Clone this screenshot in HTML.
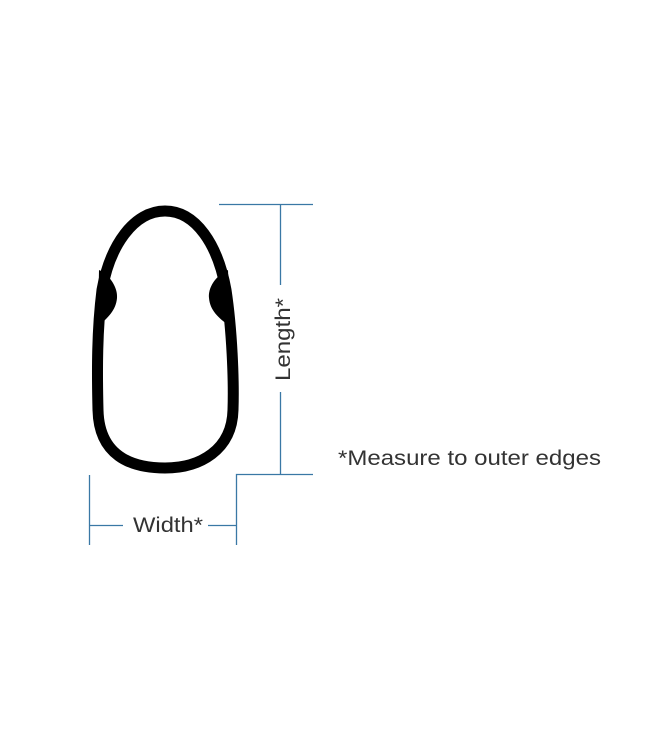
<!DOCTYPE html>
<html><head><style>body{margin:0;background:#fff}</style></head><body>
<svg width="650" height="750" viewBox="0 0 650 750" xmlns="http://www.w3.org/2000/svg">
<rect width="650" height="750" fill="#fff"/>
<path d="M165,211 C196,211 218,245 226,290 C232,330 234,380 233,410 C232,450 200,468 165,468 C130,468 99,455 98,410 C97,370 97,330 102,290 C110,245 134,211 165,211 Z" fill="none" stroke="#000" stroke-width="11"/>
<path d="M99,270 C110,275 118,288 117,298 C116,310 108,318 98,326 Z" fill="#000"/>
<path d="M228,270 C215,276 208,288 209,298 C210,310 218,318 230,326 Z" fill="#000"/>
<g stroke="#3a78a5" stroke-width="1.3" fill="none">
<line x1="219" y1="204.5" x2="313" y2="204.5"/>
<line x1="280.5" y1="204" x2="280.5" y2="285"/>
<line x1="280.5" y1="392" x2="280.5" y2="474"/>
<polyline points="313,474.5 236.5,474.5 236.5,545"/>
<line x1="89.5" y1="475" x2="89.5" y2="545"/>
<line x1="89" y1="525.5" x2="123" y2="525.5"/>
<line x1="208" y1="525.5" x2="236" y2="525.5"/>
</g>
<g font-family="Liberation Sans, sans-serif" font-size="21" fill="#333">
<text x="133" y="532" textLength="70" lengthAdjust="spacingAndGlyphs">Width*</text>
<text transform="translate(290,381) rotate(-90)" textLength="83" lengthAdjust="spacingAndGlyphs">Length*</text>
<text x="338" y="465" textLength="263" lengthAdjust="spacingAndGlyphs">*Measure to outer edges</text>
</g>
</svg>
</body></html>
